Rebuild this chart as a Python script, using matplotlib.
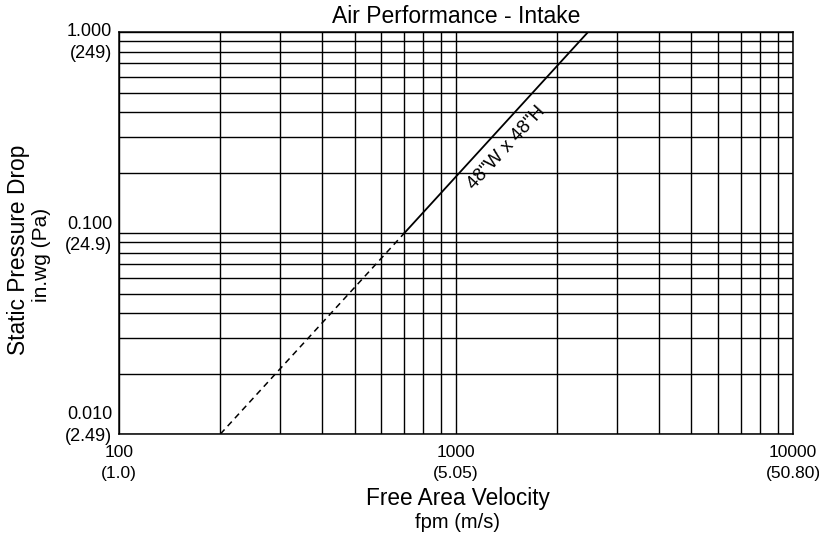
import numpy as np
import matplotlib
matplotlib.use('Agg')
import matplotlib.pyplot as plt
from matplotlib.ticker import LogLocator, NullFormatter

plt.rcParams['font.family'] = ['Liberation Sans', 'DejaVu Sans']

# line for the 48"W x 48"H intake (dashed below 0.1 in.wg)
velocity_dashed = [200, 703]
pressure_dashed = [0.01, 0.1]
velocity_solid = [703, 2465]
pressure_solid = [0.1, 1.0]
series_label = '48"W x 48"H'

x_ticks = [100, 1000, 10000]
x_tick_labels = ['100\n(1.0)', '1000\n(5.05)', '10000\n(50.80)']
y_ticks = [0.01, 0.1, 1.0]
y_tick_labels = ['0.010\n(2.49)', '0.100\n(24.9)', '1.000\n(249)']
y_label_shift = [6, -1.5, -7.5]   # points, to sit the labels like the original

fig = plt.figure(figsize=(8.2, 5.35), dpi=100)
ax = fig.add_axes([0.1451, 0.1888, 0.8219, 0.7512])

ax.set_xscale('log')
ax.set_yscale('log')
ax.set_xlim(100, 10000)
ax.set_ylim(0.01, 1.0)

ax.plot(velocity_dashed, pressure_dashed, color='black', lw=1.1, dashes=(4, 3))
ax.plot(velocity_solid, pressure_solid, color='black', lw=1.3)

ax.grid(which='both', color='black', lw=1.0)
ax.set_axisbelow(True)
for s in ax.spines.values():
    s.set_color('black')
    s.set_linewidth(1.1)

ax.set_xticks(x_ticks, labels=x_tick_labels)
ax.set_yticks(y_ticks, labels=[])
# minor gridlines at 2..9 of each decade, no labels
ax.xaxis.set_minor_locator(LogLocator(base=10, subs=np.arange(2, 10)))
ax.yaxis.set_minor_locator(LogLocator(base=10, subs=np.arange(2, 10)))
ax.xaxis.set_minor_formatter(NullFormatter())
ax.yaxis.set_minor_formatter(NullFormatter())
ax.tick_params(which='both', length=0)
ax.tick_params(axis='x', pad=8, labelsize=12.5)
for lab in ax.get_xticklabels():
    lab.set_linespacing(1.5)

for val, lab, dy in zip(y_ticks, y_tick_labels, y_label_shift):
    ax.annotate(lab, xy=(0, val), xycoords=('axes fraction', 'data'),
                xytext=(-5, dy), textcoords='offset points',
                ha='right', va='center', fontsize=13, linespacing=1.35)

ax.text(1416, 0.265, series_label, rotation=47.5, ha='center', va='center',
        fontsize=13.5, rotation_mode='anchor')

ax.set_title('Air Performance - Intake', fontsize=16.5, pad=6.5)

fig.text(0.558, 1 - 499 / 535, 'Free Area Velocity', ha='center', va='center', fontsize=16.3)
fig.text(0.558, 1 - 523 / 535, 'fpm (m/s)', ha='center', va='center', fontsize=14.5)
fig.text(19 / 820, 1 - 250 / 535, 'Static Pressure Drop', ha='center', va='center',
         rotation=90, fontsize=16.4)
fig.text(42 / 820, 1 - 255 / 535, 'in.wg (Pa)', ha='center', va='center',
         rotation=90, fontsize=15)

plt.savefig('out.png', dpi=100)
